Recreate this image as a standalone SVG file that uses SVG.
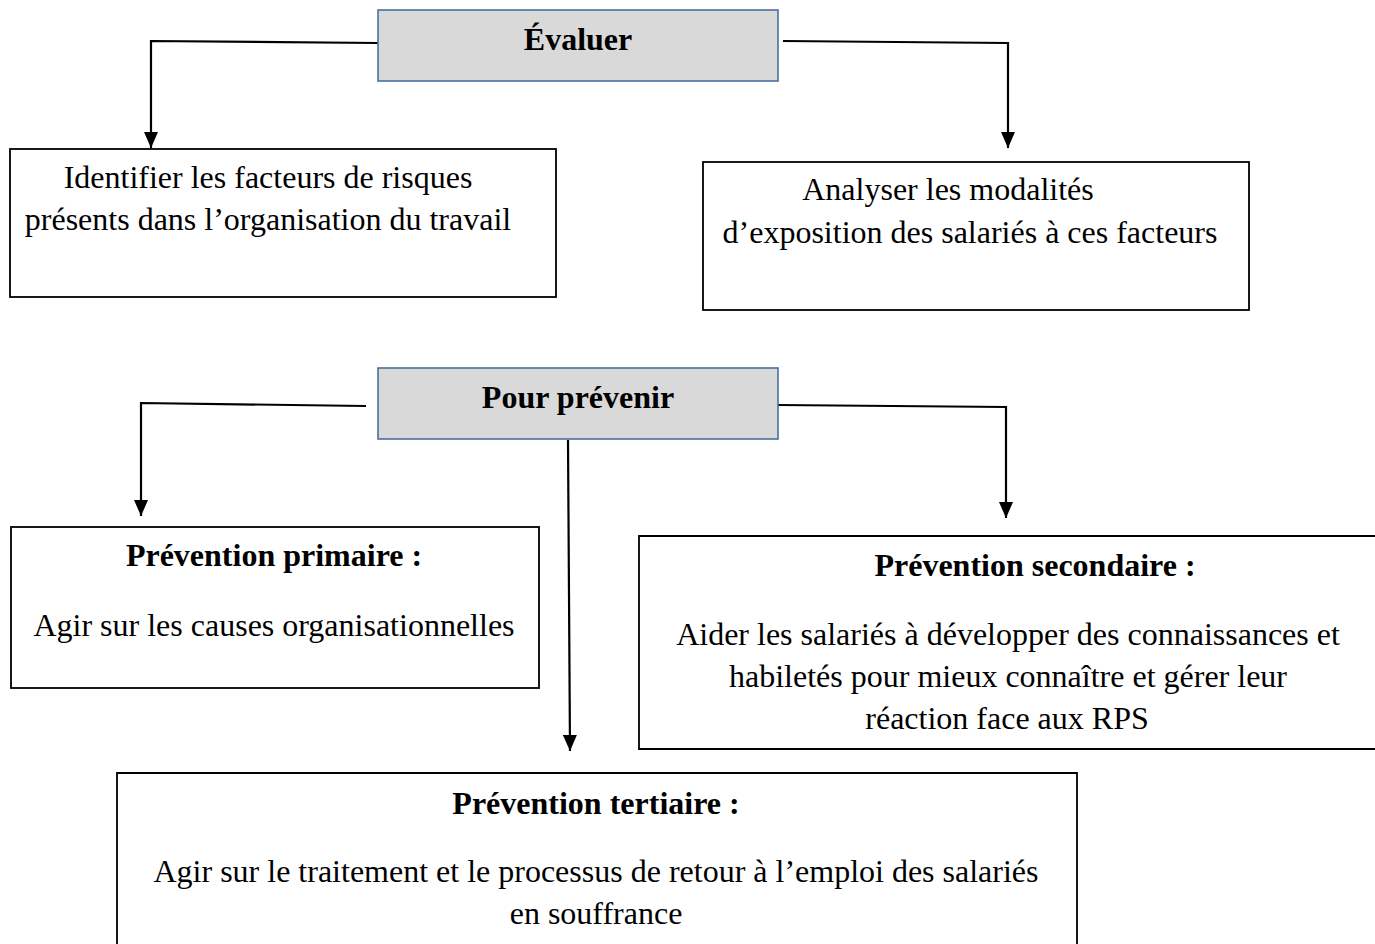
<svg xmlns="http://www.w3.org/2000/svg" width="1375" height="944" viewBox="0 0 1375 944">
  <style>
    .head { fill: #d9d9d9; stroke: #4a6ea0; stroke-width: 1.6; }
    .box { fill: #ffffff; stroke: #000000; stroke-width: 1.8; }
    .edge { fill: none; stroke: #000000; stroke-width: 2.2; }
    text { font-family: "Liberation Serif", "Times New Roman", serif; font-size: 32px; fill: #000000; text-anchor: middle; }
    .b { font-weight: bold; }
  </style>
  <defs>
    <marker id="arrow" viewBox="0 0 16 14" refX="16" refY="7" markerWidth="16" markerHeight="14" markerUnits="userSpaceOnUse" orient="auto">
      <path d="M0,0 L16,7 L0,14 z" fill="#000000"/>
    </marker>
  </defs>

  <rect width="1375" height="944" fill="#ffffff"/>

  <g id="connectors">
    <polyline class="edge" points="378,43 151,41 151,148" marker-end="url(#arrow)"/>
    <polyline class="edge" points="783,41 1008,43 1008,148" marker-end="url(#arrow)"/>
    <polyline class="edge" points="366,406 141,403 141,516" marker-end="url(#arrow)"/>
    <polyline class="edge" points="778,405 1006,407 1006,518" marker-end="url(#arrow)"/>
    <polyline class="edge" points="568,440 570,751" marker-end="url(#arrow)"/>
  </g>

  <g id="evaluer">
    <rect class="head" x="378" y="10" width="400" height="71"/>
    <text class="b" x="578" y="50">Évaluer</text>
  </g>

  <g id="identifier">
    <rect class="box" x="10" y="149" width="546" height="148"/>
    <text x="268" y="188">Identifier les facteurs de risques</text>
    <text x="268" y="230">présents dans l’organisation du travail</text>
  </g>

  <g id="analyser">
    <rect class="box" x="703" y="162" width="546" height="148"/>
    <text x="948" y="200">Analyser les modalités</text>
    <text x="970" y="243">d’exposition des salariés à ces facteurs</text>
  </g>

  <g id="prevenir">
    <rect class="head" x="378" y="368" width="400" height="71"/>
    <text class="b" x="578" y="408">Pour prévenir</text>
  </g>

  <g id="primaire">
    <rect class="box" x="11" y="527" width="528" height="161"/>
    <text class="b" x="274" y="566">Prévention primaire :</text>
    <text x="274" y="636">Agir sur les causes organisationnelles</text>
  </g>

  <g id="secondaire">
    <path class="box" d="M1375,536 H639 V749 H1375"/>
    <text class="b" x="1035" y="576">Prévention secondaire :</text>
    <text x="1008" y="645">Aider les salariés à développer des connaissances et</text>
    <text x="1008" y="687">habiletés pour mieux connaître et gérer leur</text>
    <text x="1007" y="729">réaction face aux RPS</text>
  </g>

  <g id="tertiaire">
    <path class="box" d="M117,944 V773 H1077 V944"/>
    <text class="b" x="596" y="814">Prévention tertiaire :</text>
    <text x="596" y="882">Agir sur le traitement et le processus de retour à l’emploi des salariés</text>
    <text x="596" y="924">en souffrance</text>
  </g>
</svg>
